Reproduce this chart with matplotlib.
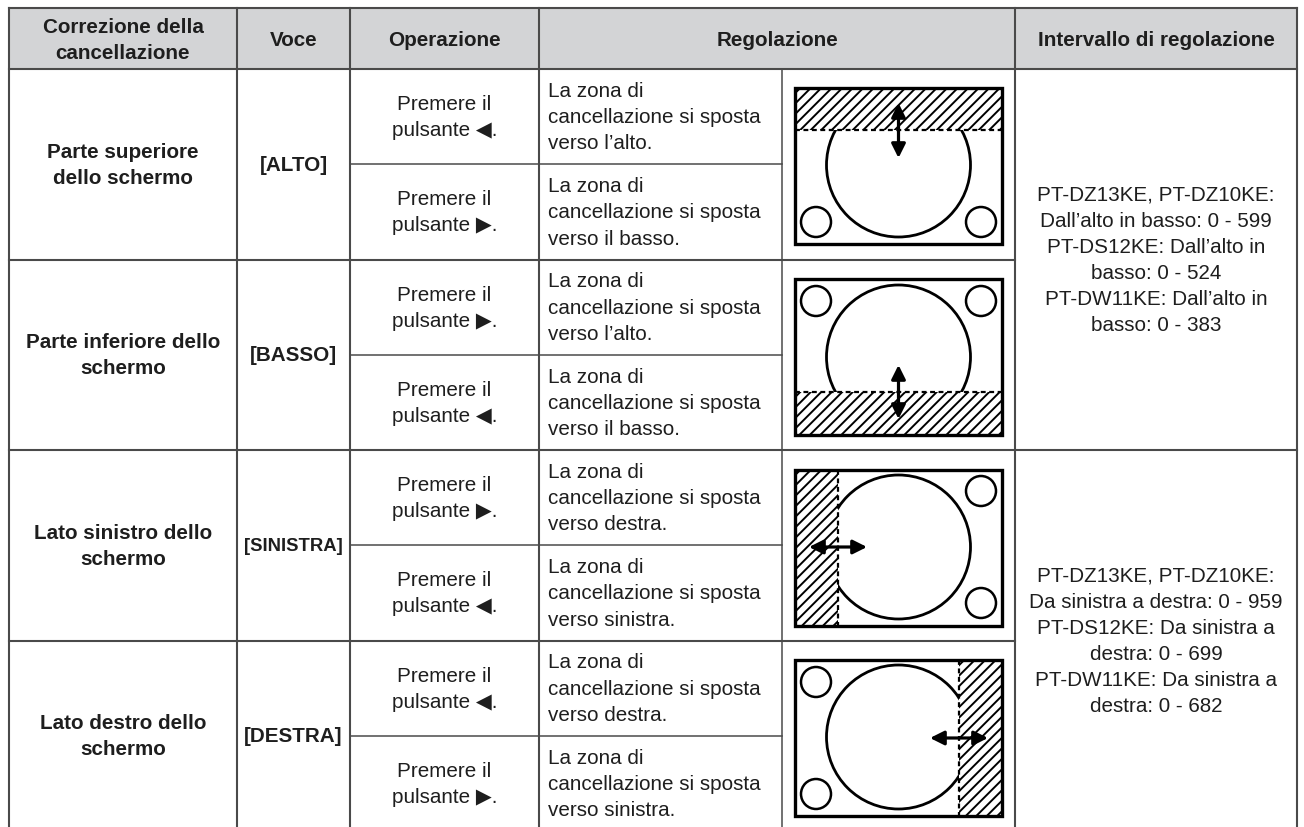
import matplotlib
matplotlib.use('Agg')
import matplotlib.pyplot as plt
from matplotlib.patches import Rectangle, Circle

# table content
headers = ['Correzione della\ncancellazione', 'Voce', 'Operazione', 'Regolazione', 'Intervallo di regolazione']
sections = ['Parte superiore\ndello schermo', 'Parte inferiore dello\nschermo',
            'Lato sinistro dello\nschermo', 'Lato destro dello\nschermo']
items = ['[ALTO]', '[BASSO]', '[SINISTRA]', '[DESTRA]']
buttons = [['◀', '▶'], ['▶', '◀'], ['▶', '◀'], ['◀', '▶']]
moves = [['l’alto', 'il basso'], ['l’alto', 'il basso'],
         ['destra', 'sinistra'], ['destra', 'sinistra']]
ranges = ['PT-DZ13KE, PT-DZ10KE:\nDall’alto in basso: 0 - 599\nPT-DS12KE: Dall’alto in\n'
          'basso: 0 - 524\nPT-DW11KE: Dall’alto in\nbasso: 0 - 383',
          'PT-DZ13KE, PT-DZ10KE:\nDa sinistra a destra: 0 - 959\nPT-DS12KE: Da sinistra a\n'
          'destra: 0 - 699\nPT-DW11KE: Da sinistra a\ndestra: 0 - 682']
sides = ['top', 'bottom', 'left', 'right']

# layout in pixels
W, H = 1304, 828
col_x = [9, 237, 350, 539, 782, 1015, 1297]
top, head_bot = 9, 70
row_h = 95.25
rows = [head_bot + k * row_h for k in range(9)]

line_c = '#4a4a4a'
text_c = '#1e1e1e'
fam = ['Liberation Sans', 'DejaVu Sans']
fs = 14.9
ls = 1.48

fig = plt.figure(figsize=(W / 100, H / 100), dpi=100)
ax = fig.add_axes([0, 0, 1, 1])
ax.set_xlim(0, W)
ax.set_ylim(H, 0)
ax.axis('off')

# header
ax.add_patch(Rectangle((col_x[0], top), col_x[-1] - col_x[0], head_bot - top,
                       facecolor='#d3d4d6', edgecolor='none', zorder=0))
head_cols = [(col_x[0], col_x[1]), (col_x[1], col_x[2]), (col_x[2], col_x[3]),
             (col_x[3], col_x[5]), (col_x[5], col_x[6])]
for (a, b), h in zip(head_cols, headers):
    ax.text((a + b) / 2, (top + head_bot) / 2 + 1, h, ha='center', va='center',
            fontsize=fs, fontweight='bold', family=fam, color=text_c, linespacing=ls)

# grid lines
ax.plot([col_x[0], col_x[-1]], [top, top], color=line_c, lw=1.5)
ax.plot([col_x[0], col_x[-1]], [head_bot, head_bot], color=line_c, lw=1.5)
for x in col_x:
    if x == col_x[4]:
        ax.plot([x, x], [head_bot, rows[-1]], color=line_c, lw=1.1)
    else:
        ax.plot([x, x], [top, rows[-1]], color=line_c, lw=1.5)
for k in (2, 6):
    ax.plot([col_x[0], col_x[5]], [rows[k], rows[k]], color=line_c, lw=1.5)
ax.plot([col_x[0], col_x[-1]], [rows[4], rows[4]], color=line_c, lw=1.5)
for k in (1, 3, 5, 7):
    ax.plot([col_x[2], col_x[4]], [rows[k], rows[k]], color=line_c, lw=1.1)

# body text
for g in range(4):
    yc = (rows[2 * g] + rows[2 * g + 2]) / 2
    ax.text((col_x[0] + col_x[1]) / 2, yc, sections[g], ha='center', va='center',
            fontsize=fs, fontweight='bold', family=fam, color=text_c, linespacing=ls)
    ax.text((col_x[1] + col_x[2]) / 2, yc, items[g], ha='center', va='center',
            fontsize=fs if len(items[g]) < 9 else 13.3, fontweight='bold',
            family=fam, color=text_c)
    for s in range(2):
        ys = (rows[2 * g + s] + rows[2 * g + s + 1]) / 2
        ax.text((col_x[2] + col_x[3]) / 2, ys, 'Premere il\npulsante ' + buttons[g][s] + '.',
                ha='center', va='center', fontsize=fs, family=fam, color=text_c,
                linespacing=ls)
        ax.text(col_x[3] + 9, ys, 'La zona di\ncancellazione si sposta\nverso ' + moves[g][s] + '.',
                ha='left', va='center', fontsize=fs, family=fam, color=text_c,
                linespacing=ls)
for r, txt in enumerate(ranges):
    yc = (rows[4 * r] + rows[4 * r + 4]) / 2
    ax.text((col_x[5] + col_x[6]) / 2, yc, txt, ha='center', va='center',
            fontsize=fs, family=fam, color=text_c, linespacing=ls)


# screen diagrams
def arrow(x0, y0, x1, y1):
    ax.annotate('', xy=(x1, y1), xytext=(x0, y0), zorder=7,
                arrowprops=dict(arrowstyle='-|>', color='black', lw=2.3,
                                mutation_scale=21, shrinkA=0, shrinkB=0))


def diagram(y0, side):
    bx, bw, bh = 795, 207, 156
    cx = 898.5
    if side == 'top':
        band = (bx, y0, bw, 42)
        big = (cx, y0 + 77)
        small = [(816, y0 + 134), (981, y0 + 134)]
        edge = ([bx, bx + bw], [y0 + 42, y0 + 42])
        arrows = [(cx, y0 + 42, cx, y0 + 15), (cx, y0 + 42, cx, y0 + 70)]
    elif side == 'bottom':
        band = (bx, y0 + 113, bw, 43)
        big = (cx, y0 + 78)
        small = [(816, y0 + 22), (981, y0 + 22)]
        edge = ([bx, bx + bw], [y0 + 113, y0 + 113])
        arrows = [(cx, y0 + 113, cx, y0 + 86), (cx, y0 + 113, cx, y0 + 140)]
    elif side == 'left':
        band = (bx, y0, 43, bh)
        big = (cx, y0 + 77)
        small = [(981, y0 + 21), (981, y0 + 133)]
        edge = ([bx + 43, bx + 43], [y0, y0 + bh])
        arrows = [(bx + 43, y0 + 77, bx + 14, y0 + 77), (bx + 43, y0 + 77, bx + 72, y0 + 77)]
    else:
        band = (bx + bw - 43, y0, 43, bh)
        big = (cx, y0 + 77)
        small = [(816, y0 + 22), (816, y0 + 134)]
        edge = ([bx + bw - 43, bx + bw - 43], [y0, y0 + bh])
        arrows = [(bx + bw - 43, y0 + 78, bx + bw - 72, y0 + 78),
                  (bx + bw - 43, y0 + 78, bx + bw - 14, y0 + 78)]

    ax.add_patch(Circle(big, 72, fill=False, lw=2, edgecolor='black', zorder=2))
    for c in small:
        ax.add_patch(Circle(c, 15, fill=False, lw=1.8, edgecolor='black', zorder=2))
    rect = Rectangle(band[:2], band[2], band[3], facecolor='white', edgecolor='none', zorder=3)
    ax.add_patch(rect)
    # diagonal hatching, clipped to the blanked band
    step = 10.5
    c = band[0] + band[1] - step / 2
    while c < band[0] + band[2] + band[1] + band[3] + step:
        ln, = ax.plot([band[0] - 200, band[0] + 400], [c - band[0] + 200, c - band[0] - 400],
                      color='black', lw=1.4, zorder=4)
        ln.set_clip_path(rect)
        c += step
    ax.plot(edge[0], edge[1], color='black', lw=1.6, ls=(0, (2.2, 1.6)), zorder=5)
    ax.add_patch(Rectangle((bx, y0), bw, bh, fill=False, lw=2.4, edgecolor='black', zorder=6))
    for a in arrows:
        arrow(*a)


box_y = [89, 280, 471, 661]
for y0, side in zip(box_y, sides):
    diagram(y0, side)

fig.savefig('out.png', dpi=100, facecolor='white')
